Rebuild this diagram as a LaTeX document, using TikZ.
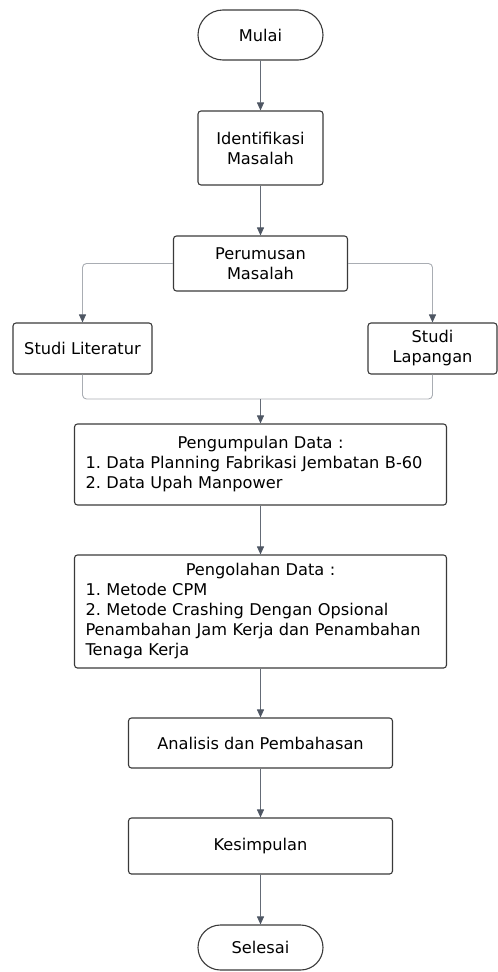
\documentclass[tikz,border=0pt]{standalone}
\usepackage{fontspec}
\setmainfont{DejaVu Sans}
\usetikzlibrary{arrows.meta,shapes.misc}
\frenchspacing

\definecolor{boxline}{HTML}{3A3A3A}
\definecolor{arrowline}{HTML}{646B76}
\definecolor{branchline}{HTML}{A9ADB3}
\definecolor{tipgray}{HTML}{4E5663}

\tikzset{
  box/.style={draw=boxline, line width=1.1pt, rounded corners=3pt, align=center,
    font=\fontsize{16.2}{20}\selectfont, inner sep=0pt},
  terminal/.style={draw=boxline, line width=1.1pt, rounded rectangle, align=center,
    font=\fontsize{16.2}{20}\selectfont, inner sep=0pt},
  arrow/.style={draw=arrowline, line width=0.9pt, -{Triangle[width=7pt,length=8pt,color=tipgray]}},
  branch/.style={draw=branchline, line width=0.9pt, rounded corners=4pt},
  brancharrow/.style={branch, -{Triangle[width=7pt,length=8pt,color=tipgray]}}
}

\begin{document}
\begin{tikzpicture}[x=1pt,y=-1pt]
\useasboundingbox (0,0) rectangle (498,972);

\node[terminal, minimum width=125pt, minimum height=50pt] (mulai) at (260.5,35) {Mulai};
\node[box, minimum width=125pt, minimum height=74pt] (identifikasi) at (260.5,148) {Identifikasi\\Masalah};
\node[box, minimum width=174pt, minimum height=55pt] (perumusan) at (260.5,263.5) {Perumusan\\Masalah};

\node[box, minimum width=139pt, minimum height=51pt] (literatur) at (82.5,348.5) {Studi Literatur};
\node[box, minimum width=129pt, minimum height=51pt] (lapangan) at (432.5,348.5) {Studi\\Lapangan};
\coordinate (gabung) at (260.5,399);

\node[box, minimum width=372pt, minimum height=81pt, text width=350pt, align=left] (pengumpulan) at (260.5,464.5)
  {\makebox[350pt]{Pengumpulan Data :}\\1. Data Planning Fabrikasi Jembatan B-60\\2. Data Upah Manpower};
\node[box, minimum width=372pt, minimum height=113pt, text width=350pt, align=left] (pengolahan) at (260.5,611.5)
  {\makebox[350pt]{Pengolahan Data :}\\1. Metode CPM\\2. Metode Crashing Dengan Opsional\\Penambahan Jam Kerja dan Penambahan\\Tenaga Kerja};

\node[box, minimum width=264pt, minimum height=50pt] (analisis) at (260.5,743) {Analisis dan Pembahasan};
\node[box, minimum width=264pt, minimum height=56pt] (kesimpulan) at (260.5,846) {Kesimpulan};
\node[terminal, minimum width=125pt, minimum height=45pt] (selesai) at (260.5,947.5) {Selesai};

\draw[arrow] (mulai) -- (identifikasi);
\draw[arrow] (identifikasi) -- (perumusan);

\draw[brancharrow] (perumusan.west) -| (literatur.north);
\draw[brancharrow] (perumusan.east) -| (lapangan.north);

\draw[branch] (literatur.south) |- (gabung) -| (lapangan.south);
\draw[arrow] (gabung) -- (pengumpulan.north);

\draw[arrow] (pengumpulan) -- (pengolahan);
\draw[arrow] (pengolahan) -- (analisis);
\draw[arrow] (analisis) -- (kesimpulan);
\draw[arrow] (kesimpulan) -- (selesai);

\end{tikzpicture}
\end{document}
